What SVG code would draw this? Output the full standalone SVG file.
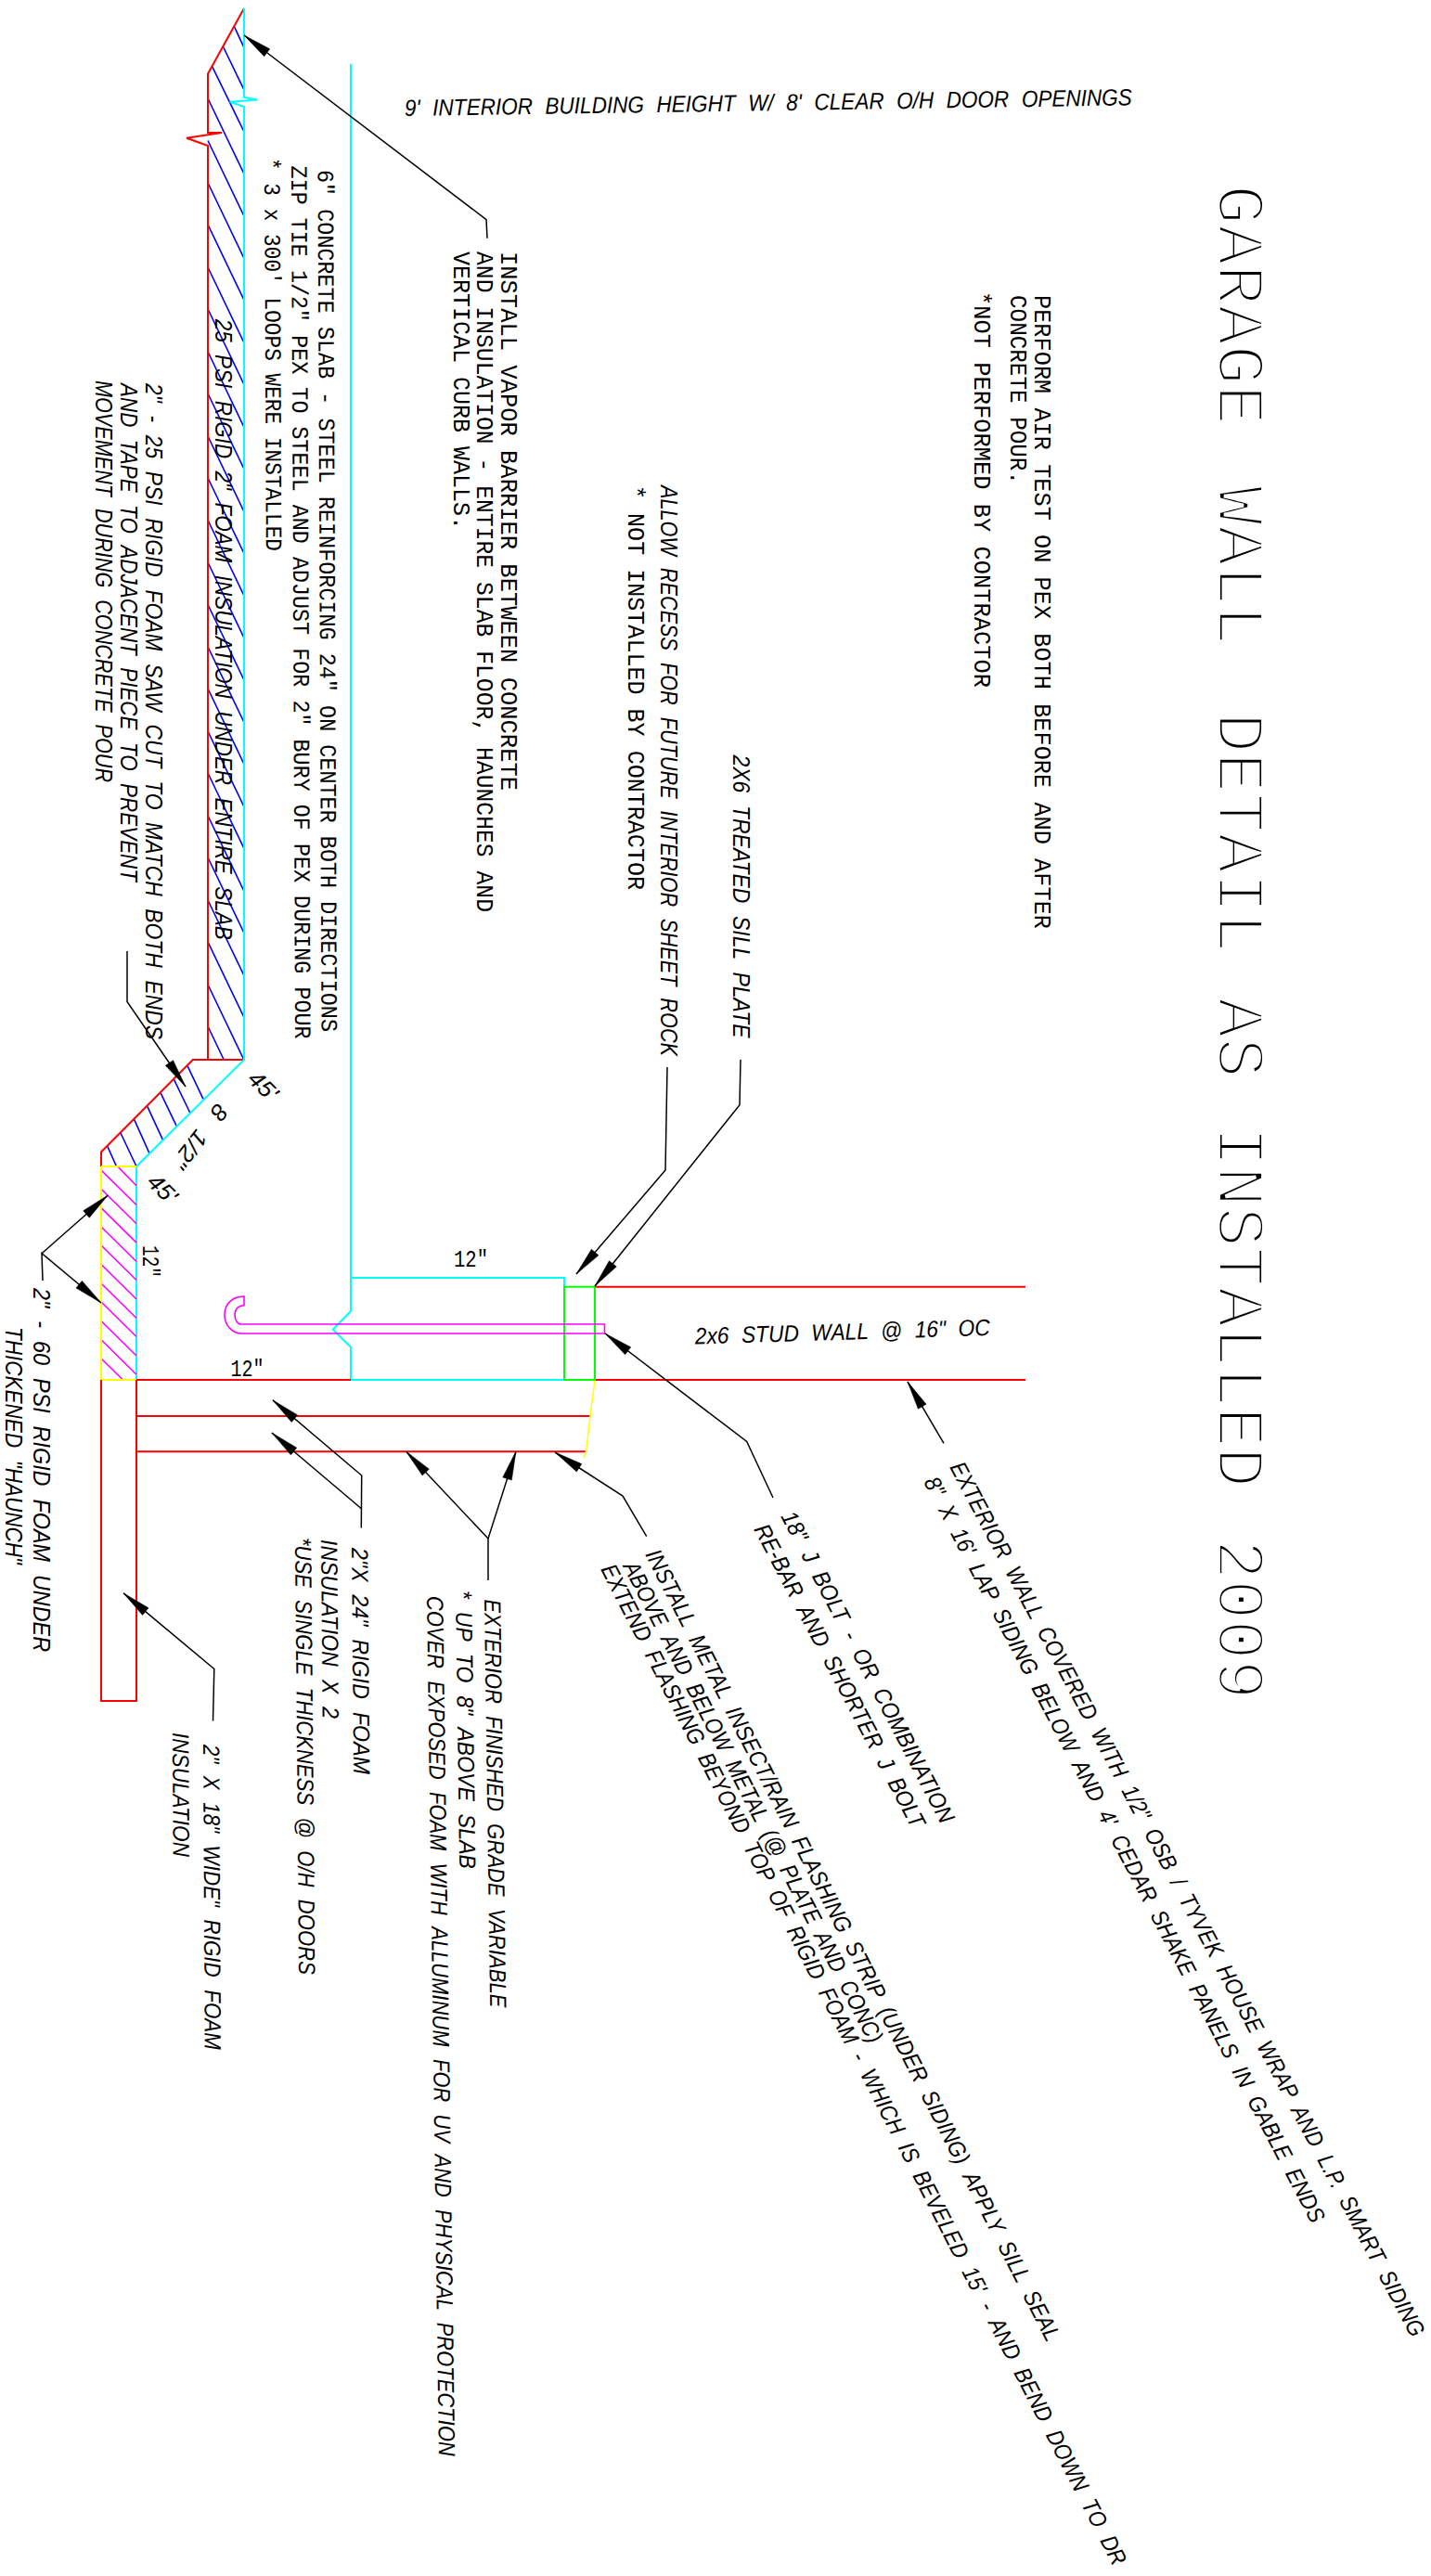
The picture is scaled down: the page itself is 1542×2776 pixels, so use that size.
<svg xmlns="http://www.w3.org/2000/svg" width="1542" height="2776" viewBox="0 0 1542 2776">
<style>
.r{stroke:#f00}.c{stroke:#0ff}.b{stroke:#00f}.m{stroke:#f0f}.y{stroke:#ff0}.g{stroke:#0f0}
path,polyline,rect{fill:none;stroke-width:2}
.b,.m{stroke-width:1.6}
.k{stroke:#000;stroke-width:1.5;marker-start:url(#ah)}
text{fill:#000;font-size:25px}
.u{font-family:"Liberation Mono",monospace}
.i{font-family:"Liberation Sans",Arial,sans-serif;font-style:italic;word-spacing:8px}
.t{font-family:"Liberation Mono",monospace;font-size:72px;stroke:#fff;stroke-width:3.8px}
</style>
<defs>
<marker id="ah" markerUnits="userSpaceOnUse" markerWidth="34" markerHeight="14" viewBox="0 -7 34 14" refX="0" refY="0" orient="auto">
<path d="M0 0L31 -5L31 5Z" style="fill:#000;stroke:#000;stroke-width:.5"/>
</marker>
</defs>

<g id="slab">
<path class="b" d="M252.6 29L263 51.3M240.3 50L263 96.9M228.5 71.4L263 142M224 106l39 81.5M224 151.5l39 81.5M224 197l39 81.5M224 242l39 81.5M224 288l39 81.5M224 333l39 81.5M224 379l39 81.5M224 424l39 81.5M224 470l39 81.5M224 515l39 81.5M224 560.5l39 81.5M224 606l39 81.5M224 651.5l39 81.5M224 697l39 81.5M224 742l39 81.5M224 788l39 81.5M224 833l39 81.5M224 879l39 81.5M224 924l39 81.5M224 970l39 81.5M224 1015l39 81.5M224 1061l39 81.5M224 1106L241.2 1142"/>
<path class="b" d="M202 1148.7L219 1184.4M187.5 1163.4L204.7 1199M173 1177.7L190.2 1213.4M158.8 1192.4L175.7 1228.9M144.7 1206.7L161 1242.8M130 1221L147 1257M115.6 1234.8L125.5 1257"/>
<path class="r" d="M263 9L224 79.5V143L239 143L201 148.7L224 157V1142M263 1142H207.8L109 1241.5V1257"/>
<path class="c" d="M263 9V105L277.5 107.6L247.6 109.8L263 115V1142L147 1257V1487"/>
<path class="c" d="M378 69V1413L358.7 1432.7L378 1451.7V1487H608M378 1377H608V1387"/>
</g>

<g id="haunch">
<path class="m" d="M127.5 1257.7L147 1277.7M109 1261l38 37.5M109 1281.3l38 37.5M109 1301.6l38 37.5M109 1322l38 37.5M109 1342l38 37.5M109 1362.5l38 37.5M109 1383l38 37.5M109 1403l38 37.5M109 1423.5l38 37.5M109 1443.7l38 37.5M109 1464l23.5 23"/>
<path class="y" d="M109 1257H147M109 1257V1487H147"/>
</g>

<g id="foam">
<path class="r" d="M147 1487H378M147 1526H636M147 1564.3H631.6M147 1487V1833H109V1487"/>
<path class="y" d="M641 1487L636 1526L631.6 1564L629 1571" style="stroke-width:1.5"/>
</g>

<g id="wall">
<path class="r" d="M641 1386.7H1105M641 1487H1105"/>
<rect class="g" x="608" y="1386.7" width="33" height="100.3"/>
</g>

<g id="jbolt">
<path class="m" d="M651.5 1427V1437H260C250 1437 242 1428 242 1416.7C242 1405 251 1397 263 1397V1406.7C257 1406.7 253 1411 253 1416.7C253 1423 256 1427 260 1427Z"/>
</g>

<g id="connectors">
<polyline class="k" points="263,38 524,236.6 525,256.7"/>
<polyline class="k" points="200,1171 137,1079.5 137,1025"/>
<polyline class="k" points="116.3,1288 45,1350.7"/>
<polyline class="k" points="109,1404 45,1350.7 46,1380"/>
<polyline class="k" points="621,1373 717,1261 719,1150"/>
<polyline class="k" points="641,1386 797,1190.7 798,1142"/>
<polyline class="k" points="652,1437 804.7,1553.5 833,1614"/>
<polyline class="k" points="978,1489 1017,1555.4"/>
<polyline class="k" points="598,1565 671,1612 696.7,1655.7"/>
<polyline class="k" points="437.5,1564 526,1658"/>
<polyline class="k" points="556,1564 526,1658 526,1703"/>
<polyline class="k" points="293.8,1508.7 389.7,1590 389.3,1646.4"/>
<polyline class="k" points="292.9,1544 389.7,1626"/>
<polyline class="k" points="133,1716.8 230.8,1798.5 229.5,1854.6"/>
</g>

<g id="title"><text class="t" transform="translate(1313 199) rotate(90)"><tspan x="0">GARAGE</tspan> <tspan x="324">WALL</tspan> <tspan x="569">DETAIL</tspan> <tspan x="876">AS</tspan> <tspan x="1015">INSTALLED</tspan> <tspan x="1460">2009</tspan></text></g>

<g id="note-air">
<text class="u" transform="translate(1115 318) rotate(90)" textLength="683" lengthAdjust="spacingAndGlyphs">PERFORM AIR TEST ON PEX BOTH BEFORE AND AFTER</text>
<text class="u" transform="translate(1089 318) rotate(90)" textLength="204" lengthAdjust="spacingAndGlyphs">CONCRETE POUR.</text>
<text class="u" transform="translate(1050 314) rotate(90)" textLength="427" lengthAdjust="spacingAndGlyphs">*NOT PERFORMED BY CONTRACTOR</text>
</g>

<g id="note-height"><text class="i" transform="translate(436 125) rotate(-0.85)" textLength="784" lengthAdjust="spacingAndGlyphs">9' INTERIOR BUILDING HEIGHT W/ 8' CLEAR O/H DOOR OPENINGS</text></g>

<g id="note-vapor">
<text class="u" transform="translate(540 271) rotate(90)" textLength="581" lengthAdjust="spacingAndGlyphs">INSTALL VAPOR BARRIER BETWEEN CONCRETE</text>
<text class="u" transform="translate(514 271) rotate(90)" textLength="712" lengthAdjust="spacingAndGlyphs">AND INSULATION - ENTIRE SLAB FLOOR, HAUNCHES AND</text>
<text class="u" transform="translate(489 271) rotate(90)" textLength="300" lengthAdjust="spacingAndGlyphs">VERTICAL CURB WALLS.</text>
</g>

<g id="note-slab">
<text class="u" transform="translate(342.5 183) rotate(89.75)" textLength="929" lengthAdjust="spacingAndGlyphs">6" CONCRETE SLAB - STEEL REINFORCING 24" ON CENTER BOTH DIRECTIONS</text>
<text class="u" transform="translate(314 178.6) rotate(89.75)" textLength="941" lengthAdjust="spacingAndGlyphs">ZIP TIE 1/2" PEX TO STEEL AND ADJUST FOR 2" BURY OF PEX DURING POUR</text>
<text class="u" transform="translate(285 170) rotate(89.75)" textLength="424" lengthAdjust="spacingAndGlyphs">* 3 x 300' LOOPS WERE INSTALLED</text>
</g>

<g id="note-foam">
<text class="i" transform="translate(231.5 343.7) rotate(90)" textLength="669" lengthAdjust="spacingAndGlyphs">25 PSI RIGID 2" FOAM INSULATION UNDER ENTIRE SLAB</text>
<text class="i" transform="translate(157 413) rotate(90)" textLength="707" lengthAdjust="spacingAndGlyphs">2" - 25 PSI RIGID FOAM SAW CUT TO MATCH BOTH ENDS</text>
<text class="i" transform="translate(130 413) rotate(90)" textLength="537" lengthAdjust="spacingAndGlyphs">AND TAPE TO ADJACENT PIECE TO PREVENT</text>
<text class="i" transform="translate(103 410) rotate(90)" textLength="433" lengthAdjust="spacingAndGlyphs">MOVEMENT DURING CONCRETE POUR</text>
</g>

<g id="note-recess">
<text class="i" transform="translate(712 523) rotate(90)" textLength="615" lengthAdjust="spacingAndGlyphs">ALLOW RECESS FOR FUTURE INTERIOR SHEET ROCK</text>
<text class="u" transform="translate(677 523) rotate(90)" textLength="436" lengthAdjust="spacingAndGlyphs">* NOT INSTALLED BY CONTRACTOR</text>
<text class="i" transform="translate(790 813.5) rotate(90)" textLength="305" lengthAdjust="spacingAndGlyphs">2X6 TREATED SILL PLATE</text>
</g>

<g id="dims">
<text class="u" x="489" y="1365" textLength="37" lengthAdjust="spacingAndGlyphs">12"</text>
<text class="u" x="248.5" y="1483" textLength="36" lengthAdjust="spacingAndGlyphs">12"</text>
<text class="u" transform="translate(154 1342) rotate(90)" textLength="35" lengthAdjust="spacingAndGlyphs">12"</text>
<text class="i" transform="translate(157 1275) rotate(45)" textLength="34" lengthAdjust="spacingAndGlyphs">45'</text>
<text class="i" transform="translate(265.5 1164) rotate(45)" textLength="34" lengthAdjust="spacingAndGlyphs">45'</text>
<text class="i" style="word-spacing:14px" transform="translate(233.7 1187.8) rotate(128)" textLength="80" lengthAdjust="spacingAndGlyphs">8 1/2"</text>
</g>

<g id="note-stud"><text class="i" transform="translate(749 1448.5) rotate(-1.7)" textLength="318" lengthAdjust="spacingAndGlyphs">2x6 STUD WALL @ 16" OC</text></g>

<g id="note-haunch">
<text class="i" transform="translate(36 1388) rotate(90)" textLength="392" lengthAdjust="spacingAndGlyphs">2" - 60 PSI RIGID FOAM UNDER</text>
<text class="i" transform="translate(6 1430) rotate(90)" textLength="256" lengthAdjust="spacingAndGlyphs">THICKENED "HAUNCH"</text>
</g>

<g id="note-rigid">
<text class="i" transform="translate(379 1668) rotate(89.5)" textLength="244" lengthAdjust="spacingAndGlyphs">2"X 24" RIGID FOAM</text>
<text class="i" transform="translate(346 1659) rotate(89.5)" textLength="193" lengthAdjust="spacingAndGlyphs">INSULATION X 2</text>
<text class="i" transform="translate(318 1657) rotate(89.5)" textLength="471" lengthAdjust="spacingAndGlyphs">*USE SINGLE THICKNESS @ O/H DOORS</text>
</g>

<g id="note-grade">
<text class="i" transform="translate(522 1723.5) rotate(89.2)" textLength="440" lengthAdjust="spacingAndGlyphs">EXTERIOR FINISHED GRADE VARIABLE</text>
<text class="i" transform="translate(491 1714) rotate(89.2)" textLength="300" lengthAdjust="spacingAndGlyphs">* UP TO 8" ABOVE SLAB</text>
<text class="i" transform="translate(460 1720) rotate(89.2)" textLength="927" lengthAdjust="spacingAndGlyphs">COVER EXPOSED FOAM WITH ALLUMINUM FOR UV AND PHYSICAL PROTECTION</text>
</g>

<g id="note-18">
<text class="i" transform="translate(219 1880) rotate(89.7)" textLength="329" lengthAdjust="spacingAndGlyphs">2" X 18" WIDE" RIGID FOAM</text>
<text class="i" transform="translate(186 1867) rotate(89.7)" textLength="134" lengthAdjust="spacingAndGlyphs">INSULATION</text>
</g>

<g id="note-exterior">
<text class="i" transform="translate(1023 1581) rotate(62.06)" textLength="1063" lengthAdjust="spacingAndGlyphs">EXTERIOR WALL COVERED WITH 1/2" OSB / TYVEK HOUSE WRAP AND L.P. SMART SIDING</text>
<text class="i" transform="translate(995 1597) rotate(62.4)" textLength="903" lengthAdjust="spacingAndGlyphs">8" X 16' LAP SIDING BELOW AND 4' CEDAR SHAKE PANELS IN GABLE ENDS</text>
</g>
<g id="note-jbolt">
<text class="i" transform="translate(841 1634) rotate(62.5)" textLength="375" lengthAdjust="spacingAndGlyphs">18" J BOLT - OR COMBINATION</text>
<text class="i" transform="translate(812 1648) rotate(62.2)" textLength="366" lengthAdjust="spacingAndGlyphs">RE-BAR AND SHORTER J BOLT</text>
</g>
<g id="note-flashing">
<text class="i" transform="translate(695 1675) rotate(63)" textLength="954" lengthAdjust="spacingAndGlyphs">INSTALL METAL INSECT/RAIN FLASHING STRIP (UNDER SIDING) APPLY SILL SEAL</text>
<text class="i" transform="translate(671 1688) rotate(62.7)" textLength="580" lengthAdjust="spacingAndGlyphs">ABOVE AND BELOW METAL (@ PLATE AND CONC)</text>
<text class="i" transform="translate(647 1691) rotate(62.8)" textLength="1209" lengthAdjust="spacingAndGlyphs">EXTEND FLASHING BEYOND TOP OF RIGID FOAM - WHICH IS BEVELED 15' - AND BEND DOWN TO DR</text>
</g>
</svg>
